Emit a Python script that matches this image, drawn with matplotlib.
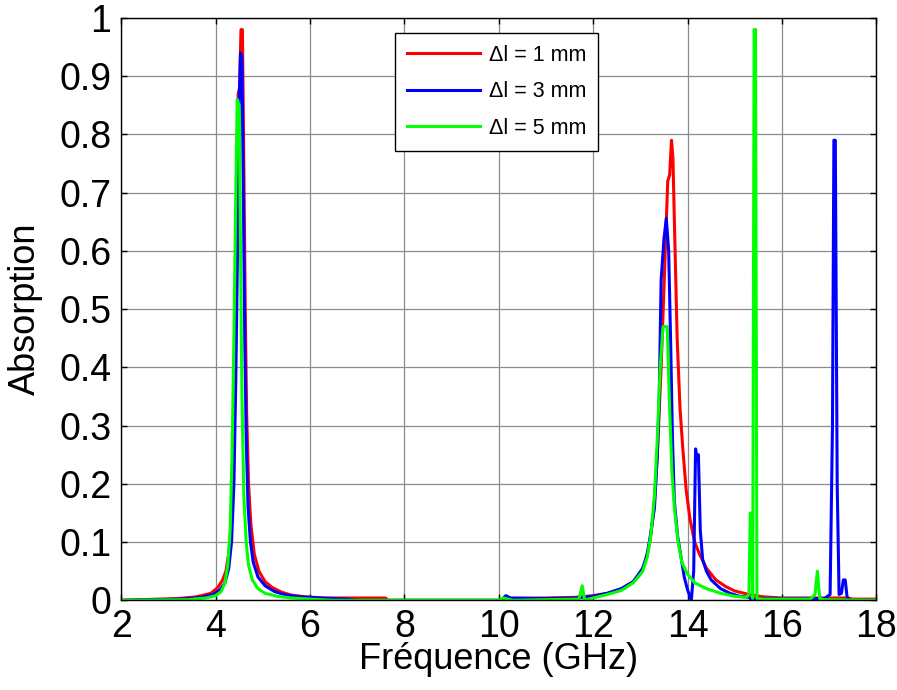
import matplotlib
matplotlib.use("Agg")
import matplotlib.pyplot as plt

# Absorption spectra for three values of delta-l
freq_1mm = [2.0, 3.2, 3.6, 3.9, 4.05, 4.15, 4.22, 4.28, 4.33, 4.38, 4.42, 4.46, 4.48, 4.51,
            4.54, 4.57, 4.60, 4.63, 4.66, 4.70, 4.75, 4.82, 4.92, 5.05, 5.2, 5.4, 5.6, 5.9,
            6.3, 7.6, 7.65, 10.1, 10.15, 11.0, 11.6, 12.0, 12.3, 12.6, 12.85, 13.0, 13.1,
            13.2, 13.28, 13.36, 13.44, 13.52, 13.58, 13.62, 13.66, 13.69, 13.73, 13.78,
            13.84, 13.9, 13.97, 14.05, 14.15, 14.25, 14.4, 14.6, 14.8, 15.0, 15.3, 15.6,
            16.0, 17.0, 17.4, 17.5, 18.0]
abs_1mm = [0.0, 0.003, 0.006, 0.012, 0.022, 0.035, 0.05, 0.08, 0.13, 0.25, 0.45, 0.7, 0.87, 0.88,
           0.98, 0.98, 0.75, 0.5, 0.32, 0.2, 0.13, 0.08, 0.05, 0.032, 0.022, 0.014, 0.009, 0.006,
           0.004, 0.004, 0.0, 0.0, 0.003, 0.004, 0.005, 0.008, 0.012, 0.02, 0.032, 0.045, 0.065,
           0.1, 0.15, 0.25, 0.4, 0.58, 0.72, 0.73, 0.79, 0.76, 0.62, 0.45,
           0.33, 0.26, 0.19, 0.14, 0.1, 0.08, 0.055, 0.035, 0.024, 0.016, 0.01, 0.006,
           0.004, 0.004, 0.004, 0.002, 0.002]

freq_3mm = [2.0, 3.3, 3.7, 3.95, 4.1, 4.2, 4.28, 4.34, 4.39, 4.43, 4.47, 4.50, 4.53, 4.56,
            4.59, 4.62, 4.65, 4.69, 4.74, 4.8, 4.9, 5.05, 5.25, 5.5, 5.8, 6.2, 6.8, 7.0,
            10.05, 10.15, 10.25, 11.0, 11.7, 12.0, 12.3, 12.6, 12.85, 13.05, 13.15, 13.22,
            13.3, 13.36, 13.4, 13.44, 13.5, 13.55, 13.6, 13.64, 13.68, 13.72, 13.79, 13.86,
            13.93, 14.0, 14.08, 14.13, 14.17, 14.2, 14.23, 14.27, 14.32, 14.4, 14.5, 14.7,
            14.9, 15.1, 15.3, 15.35, 15.5, 16.0, 16.9, 17.02, 17.07, 17.1, 17.13, 17.17,
            17.21, 17.26, 17.3, 17.34, 17.38, 17.45, 18.0]
abs_3mm = [0.0, 0.002, 0.005, 0.01, 0.018, 0.03, 0.055, 0.1, 0.2, 0.38, 0.62, 0.85, 0.94, 0.93,
           0.7, 0.45, 0.28, 0.16, 0.1, 0.065, 0.04, 0.025, 0.015, 0.009, 0.006, 0.004, 0.002, 0.0,
           0.0, 0.008, 0.004, 0.003, 0.004, 0.007, 0.012, 0.02, 0.032, 0.055, 0.08, 0.115,
           0.16, 0.25, 0.35, 0.55, 0.62, 0.656, 0.6, 0.45, 0.28, 0.17, 0.11, 0.075,
           0.04, 0.018, 0.0, 0.05, 0.26, 0.24, 0.25, 0.12, 0.07, 0.05, 0.035, 0.02,
           0.012, 0.007, 0.005, 0.002, 0.003, 0.003, 0.003, 0.01, 0.3, 0.79, 0.79, 0.2,
           0.01, 0.012, 0.035, 0.035, 0.005, 0.0, 0.0]

freq_5mm = [2.0, 3.4, 3.8, 4.0, 4.12, 4.2, 4.26, 4.31, 4.35, 4.39, 4.43, 4.46, 4.50, 4.53,
            4.56, 4.6, 4.65, 4.7, 4.78, 4.9, 5.05, 5.3, 5.6, 6.0, 6.5, 10.0, 10.1, 10.3,
            11.7, 11.77, 11.82, 11.9, 12.3, 12.6, 12.85, 13.05, 13.15, 13.22, 13.3, 13.36,
            13.42, 13.48, 13.57, 13.62, 13.67, 13.72, 13.8, 13.88, 14.0, 14.15, 14.4, 14.7,
            15.0, 15.25, 15.3, 15.33, 15.36, 15.38, 15.41, 15.44, 15.47, 15.6, 16.6, 16.7,
            16.75, 16.8, 16.9, 18.0]
abs_5mm = [0.0, 0.001, 0.004, 0.008, 0.015, 0.03, 0.06, 0.12, 0.25, 0.45, 0.7, 0.86, 0.85, 0.6,
           0.35, 0.18, 0.1, 0.06, 0.035, 0.02, 0.012, 0.007, 0.004, 0.002, 0.0, 0.0, 0.004, 0.0,
           0.002, 0.025, 0.0, 0.002, 0.01, 0.017, 0.03, 0.05, 0.075, 0.11, 0.18, 0.28,
           0.4, 0.47, 0.47, 0.33, 0.22, 0.16, 0.1, 0.065, 0.045, 0.03, 0.02, 0.012,
           0.007, 0.005, 0.01, 0.15, 0.14, 0.003, 0.98, 0.98, 0.003, 0.002, 0.002, 0.01,
           0.05, 0.003, 0.001, 0.0]

labels = ["\u0394l = 1 mm", "\u0394l = 3 mm", "\u0394l = 5 mm"]
colors = ["#ff0000", "#0000ff", "#00ff00"]

plt.rcParams['font.family'] = ['Liberation Sans', 'DejaVu Sans']

fig = plt.figure(figsize=(8.97, 6.9), dpi=100)
ax = fig.add_axes([0.135, 0.130, 0.842, 0.844])

for f, a, lab, c in zip([freq_1mm, freq_3mm, freq_5mm], [abs_1mm, abs_3mm, abs_5mm], labels, colors):
    ax.plot(f, a, color=c, lw=2.2, label=lab)

ax.set_xlim(2, 18)
ax.set_ylim(0, 1)
ax.set_xticks(range(2, 19, 2))
ax.set_yticks([i / 10 for i in range(11)])
ax.set_yticklabels(["0", "0.1", "0.2", "0.3", "0.4", "0.5", "0.6", "0.7", "0.8", "0.9", "1"])
ax.grid(True, color="#8c8c8c", lw=0.9)
ax.tick_params(direction="in", top=True, right=True, length=4, width=1, labelsize=27)
ax.tick_params(axis="x", pad=6)
ax.tick_params(axis="y", pad=7)
for sp in ax.spines.values():
    sp.set_linewidth(1)

ax.set_xlabel("Fréquence (GHz)", fontsize=26, labelpad=-2)
ax.set_ylabel("Absorption", fontsize=26, labelpad=12)

leg = ax.legend(loc="upper left", bbox_to_anchor=(0.363, 0.974), fancybox=False,
                edgecolor="black", framealpha=1, prop={"size": 15.5},
                handlelength=3.4, handletextpad=0.4, borderpad=0.55, labelspacing=0.72,
                borderaxespad=0)
leg.get_frame().set_linewidth(1)

fig.savefig("out.png", dpi=100)
